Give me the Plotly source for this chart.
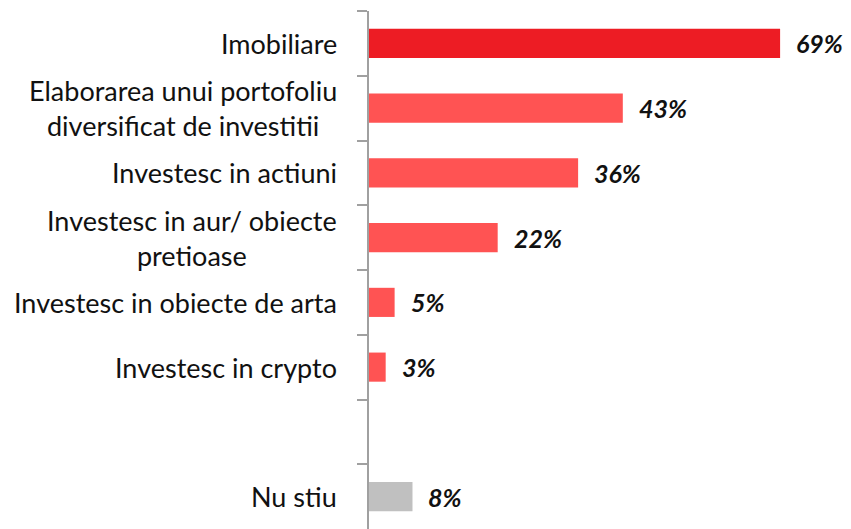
import plotly.graph_objects as go

categories = ["Imobiliare", "Elaborarea unui portofoliu<br>diversificat de investitii",
              "Investesc in actiuni", "Investesc in aur/ obiecte<br>pretioase",
              "Investesc in obiecte de arta", "Investesc in crypto", " ", "Nu stiu"]
values = [69, 42.6, 35.1, 21.6, 4.3, 2.8, None, 7.3]
value_labels = ["69%", "43%", "36%", "22%", "5%", "3%", "", "8%"]
colors = ["#ED1C24", "#FF5353", "#FF5353", "#FF5353", "#FF5353", "#FF5353", "#FF5353", "#C0C0C0"]

FONT = "Lato, sans-serif"

fig = go.Figure(go.Bar(
    y=categories, x=values, orientation="h",
    marker=dict(color=colors, line=dict(width=0)),
    width=0.45, hoverinfo="skip",
))

annotations = []
for c in categories:
    annotations.append(dict(
        x=0, xref="paper", y=c, yref="y", text=c, showarrow=False,
        xanchor="right", yanchor="middle", align="center", xshift=-30,
        font=dict(family=FONT, size=27, color="#111111"),
    ))
for c, v, t in zip(categories, values, value_labels):
    if v is None:
        continue
    annotations.append(dict(
        x=v, xref="x", y=c, yref="y", text="<b><i>" + t + "</i></b>", showarrow=False,
        xanchor="left", yanchor="middle", xshift=14,
        font=dict(family=FONT, size=25, color="#111111"),
    ))

fig.update_layout(
    width=843, height=521,
    margin=dict(l=361, r=0, t=3, b=0),
    plot_bgcolor="white", paper_bgcolor="white",
    showlegend=False,
    bargap=0.55,
    annotations=annotations,
    xaxis=dict(range=[0, 80.9], visible=False, fixedrange=True),
    yaxis=dict(
        categoryorder="array", categoryarray=categories,
        autorange="reversed",
        showticklabels=False,
        showline=True, linecolor="#A0A0A0", linewidth=2,
        ticks="outside", tickson="boundaries", ticklen=10, tickcolor="#A0A0A0", tickwidth=2,
        showgrid=False, zeroline=False, fixedrange=True,
    ),
)

fig.write_html("out.html")
